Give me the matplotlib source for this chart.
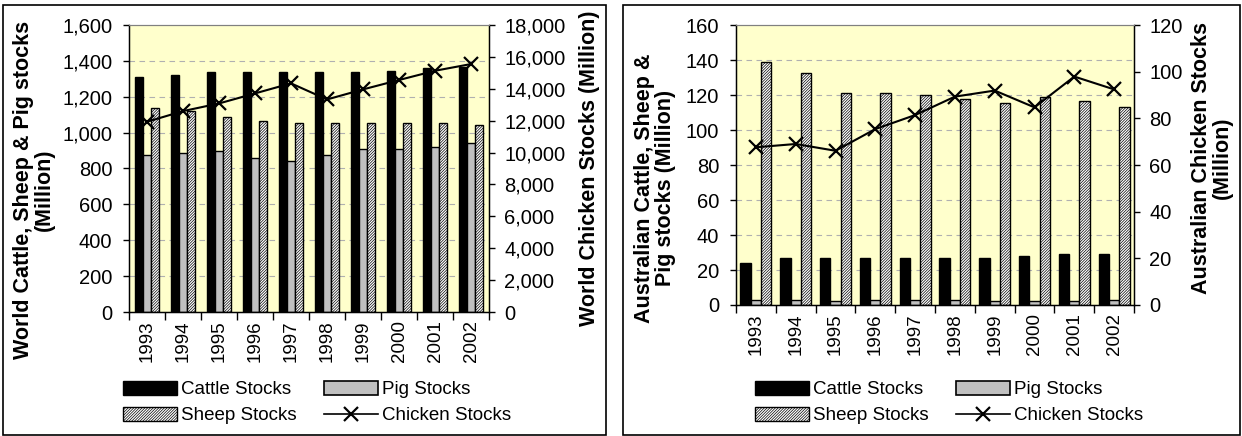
import numpy as np
import matplotlib
matplotlib.use('Agg')
import matplotlib.pyplot as plt
from matplotlib.patches import Rectangle
from matplotlib.lines import Line2D
from matplotlib.ticker import FuncFormatter

plt.rcParams['font.family'] = ['Liberation Sans', 'DejaVu Sans']
plt.rcParams['hatch.linewidth'] = 0.5

years = ['1993', '1994', '1995', '1996', '1997', '1998', '1999', '2000', '2001', '2002']

# World stocks (Million)
world_cattle = [1312, 1323, 1336, 1336, 1336, 1336, 1336, 1345, 1358, 1367]
world_pig = [874, 887, 899, 861, 841, 874, 910, 910, 921, 940]
world_sheep = [1135, 1120, 1088, 1066, 1053, 1055, 1055, 1055, 1055, 1042]
world_chicken = [11930, 12600, 13080, 13710, 14340, 13330, 13960, 14550, 15130, 15550]

# Australian stocks (Million)
aus_cattle = [24.2, 26.7, 26.7, 26.7, 26.7, 26.7, 26.7, 27.8, 29.0, 29.0]
aus_pig = [2.6, 2.6, 2.5, 2.6, 2.6, 2.7, 2.5, 2.4, 2.5, 2.6]
aus_sheep = [138.7, 132.8, 121.3, 121.3, 120.0, 117.9, 115.4, 119.0, 116.8, 113.3]
aus_chicken = [67.6, 69.0, 66.1, 75.4, 81.4, 89.3, 91.9, 84.7, 97.9, 92.4]

W, H = 1242, 436
fig = plt.figure(figsize=(W / 100, H / 100), dpi=100)

FS = 13.5
YFS = 14.5
LFS = 15.5
HATCH = '////////////'
comma = FuncFormatter(lambda v, p: f'{v:,.0f}')


def px_axes(x0, y0, x1, y1):
    return fig.add_axes([x0 / W, 1 - y1 / H, (x1 - x0) / W, (y1 - y0) / H])


def panel(rect, cattle, pig, sheep, chicken, lmax, lstep, rmax, rstep, bw):
    ax = px_axes(*rect)
    ax.set_facecolor('#FFFFCC')
    x = np.arange(len(years))
    ax.bar(x - bw, cattle, bw, color='black', edgecolor='black', lw=1, zorder=2)
    ax.bar(x, pig, bw, color='#C0C0C0', edgecolor='black', lw=1, zorder=2)
    ax.bar(x + bw, sheep, bw, color='white', edgecolor='black', lw=1,
           hatch=HATCH, zorder=2)
    ax.set_xlim(-0.5, len(years) - 0.5)
    ax.set_ylim(0, lmax)
    ax.set_yticks(np.arange(0, lmax + 1, lstep))
    ax.yaxis.set_major_formatter(comma)
    ax.set_xticks(x)
    ax.set_xticklabels(years, rotation=90, fontsize=FS)
    ax.set_xticks(np.arange(-0.5, len(years)), minor=True)
    ax.tick_params(axis='x', which='major', length=0, pad=6)
    ax.tick_params(axis='x', which='minor', length=6, width=1, direction='out')
    ax.tick_params(axis='y', labelsize=YFS, length=4, width=1, direction='out', pad=8)
    for v in np.arange(lstep, lmax, lstep):
        ax.axhline(v, color='#B0B0B0', lw=0.8, ls=(0, (5, 4)), zorder=1)
    ax.spines['top'].set_color('#808080')
    for s in ['left', 'bottom', 'right']:
        ax.spines[s].set_linewidth(1)

    ax2 = ax.twinx()
    ax2.plot(x, chicken, color='black', lw=1.5, marker='x', ms=10, mew=1.6, zorder=3)
    ax2.set_ylim(0, rmax)
    ax2.set_yticks(np.arange(0, rmax + 1, rstep))
    ax2.yaxis.set_major_formatter(comma)
    ax2.tick_params(axis='y', labelsize=YFS, length=4, width=1, direction='out', pad=7)
    ax2.spines['top'].set_color('#808080')
    return ax, ax2


panel((129, 25, 489, 312), world_cattle, world_pig, world_sheep, world_chicken,
      1600, 200, 18000, 2000, 0.23)
panel((736, 25, 1134, 305), aus_cattle, aus_pig, aus_sheep, aus_chicken,
      160, 20, 120, 20, 0.26)

# axis titles
fig.text(34 / W, 1 - 190 / H, 'World Cattle, Sheep & Pig stocks\n(Million)',
         rotation=90, ha='center', va='center', fontsize=LFS, fontweight='bold',
         linespacing=0.95)
fig.text(590 / W, 1 - 168 / H, 'World Chicken Stocks (Million)',
         rotation=90, ha='center', va='center', fontsize=LFS, fontweight='bold')
fig.text(655 / W, 1 - 188 / H, 'Australian Cattle, Sheep &\nPig stocks (Million)',
         rotation=90, ha='center', va='center', fontsize=LFS, fontweight='bold',
         linespacing=0.95)
fig.text(1212 / W, 1 - 158 / H, 'Australian Chicken Stocks\n(Million)',
         rotation=90, ha='center', va='center', fontsize=LFS, fontweight='bold',
         linespacing=0.95)

# legends
handles = [
    Rectangle((0, 0), 1, 1, facecolor='black', edgecolor='black'),
    Rectangle((0, 0), 1, 1, facecolor='white', edgecolor='black', hatch=HATCH),
    Rectangle((0, 0), 1, 1, facecolor='#C0C0C0', edgecolor='black', lw=1.2),
    Line2D([], [], color='black', lw=1.2, marker='x', ms=10, mew=1.6),
]
labels = ['Cattle Stocks', 'Sheep Stocks', 'Pig Stocks', 'Chicken Stocks']
for lx in (123, 755):
    fig.legend(handles, labels, ncol=2, loc='upper left',
               bbox_to_anchor=(lx / W, 1 - 381 / H), frameon=False,
               fontsize=FS, handlelength=2.9, handleheight=0.75,
               handletextpad=0.2, columnspacing=1.45, labelspacing=0.45,
               borderpad=0, borderaxespad=0)

# chart borders
for x0, x1 in ((3, 606), (623, 1240)):
    fig.add_artist(Rectangle((x0 / W, 1 - 435 / H), (x1 - x0) / W, 430 / H,
                             transform=fig.transFigure, fill=False,
                             edgecolor='black', lw=1.2))

fig.savefig('out.png', dpi=100)
